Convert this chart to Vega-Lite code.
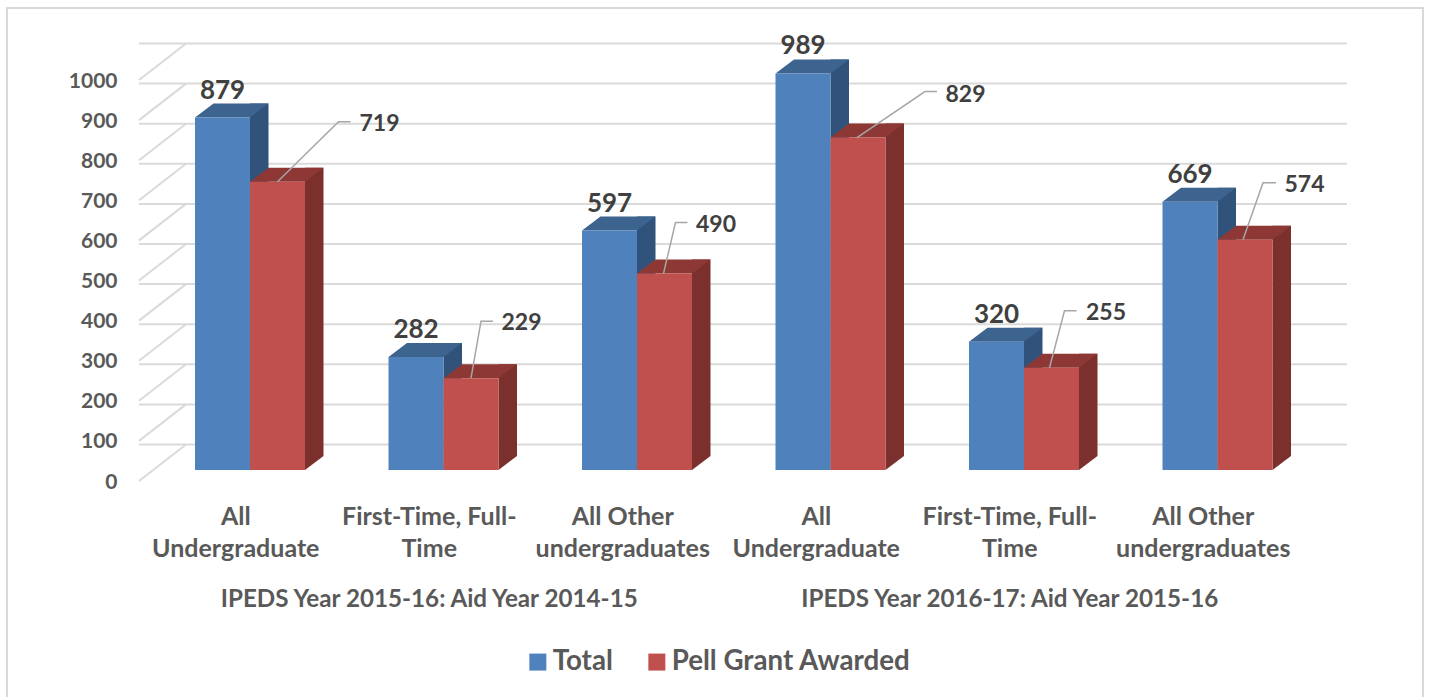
{"$schema":"https://vega.github.io/schema/vega-lite/v6.json","width":1161,"height":401,"autosize":{"type":"none"},"padding":{"left":139,"top":80,"right":129,"bottom":216},"background":"white","config":{"view":{"stroke":null},"font":"Lato"},
"datasets":{"bars":[
{"cat":"2015-16|All|Undergraduate","series":"Total","value":879},
{"cat":"2015-16|First-Time, Full-|Time","series":"Total","value":282},
{"cat":"2015-16|All Other|undergraduates","series":"Total","value":597},
{"cat":"2016-17|All|Undergraduate","series":"Total","value":989},
{"cat":"2016-17|First-Time, Full-|Time","series":"Total","value":320},
{"cat":"2016-17|All Other|undergraduates","series":"Total","value":669},
{"cat":"2015-16|All|Undergraduate","series":"Pell Grant Awarded","value":719},
{"cat":"2015-16|First-Time, Full-|Time","series":"Pell Grant Awarded","value":229},
{"cat":"2015-16|All Other|undergraduates","series":"Pell Grant Awarded","value":490},
{"cat":"2016-17|All|Undergraduate","series":"Pell Grant Awarded","value":829},
{"cat":"2016-17|First-Time, Full-|Time","series":"Pell Grant Awarded","value":255},
{"cat":"2016-17|All Other|undergraduates","series":"Pell Grant Awarded","value":574}],
"ticks":[{"tick":0},{"tick":100},{"tick":200},{"tick":300},{"tick":400},{"tick":500},{"tick":600},{"tick":700},{"tick":800},{"tick":900},{"tick":1000}],
"groups":[{"cat":"2015-16|First-Time, Full-|Time","group":"IPEDS Year 2015-16: Aid Year 2014-15"},{"cat":"2016-17|First-Time, Full-|Time","group":"IPEDS Year 2016-17: Aid Year 2015-16"}]},
"layer":[
{"mark":{"type":"rect","fill":"transparent","stroke":"#D9D9D9","strokeWidth":2,"clip":false},"data":{"values":[{"frame":1}]},"encoding":{"x":{"value":-132},"x2":{"value":1284},"y":{"value":-72},"y2":{"value":640}}},
{"data":{"name":"ticks"},"mark":{"type":"rule","color":"#DADADA","strokeWidth":2,"xOffset":47,"x2Offset":47,"yOffset":-36.5},"encoding":{"y":{"field":"tick","type":"quantitative","title":null,"scale":{"domain":[0,1000],"nice":false,"zero":true},"axis":{"values":[0,100,200,300,400,500,600,700,800,900,1000],"format":"d","domain":false,"ticks":false,"grid":false,"labelPadding":22,"labelOffset":1,"labelFont":"Lato","labelFontWeight":"bold","labelFontSize":21,"labelColor":"#595959"}}}},
{"data":{"name":"ticks"},"mark":{"type":"point","shape":"M0 0L47 -36.5","size":4,"filled":false,"opacity":1,"stroke":"#DADADA","strokeWidth":2},"encoding":{"x":{"datum":"2015-16|All|Undergraduate","type":"nominal","bandPosition":0,"title":null},"y":{"field":"tick","type":"quantitative","title":null}}},
{"data":{"name":"bars"},"encoding":{
"x":{"field":"cat","type":"nominal","sort":null,"title":null,"scale":{"type":"band","paddingInner":0,"paddingOuter":0,"domain":["2015-16|All|Undergraduate","2015-16|First-Time, Full-|Time","2015-16|All Other|undergraduates","2016-17|All|Undergraduate","2016-17|First-Time, Full-|Time","2016-17|All Other|undergraduates"]},"axis":{"labelExpr":"slice(split(datum.value,'|'),1)","labelAngle":0,"labelAlign":"center","labelBaseline":"top","domain":false,"ticks":false,"grid":false,"labelPadding":23,"labelFont":"Lato","labelFontWeight":"bold","labelFontSize":25,"labelLineHeight":32,"labelColor":"#595959","labelLimit":0,"labelOverlap":false}},
"y":{"field":"value","type":"quantitative","title":null}},
"layer":[
{"transform":[{"filter":"datum.series==='Total'"}],"mark":{"type":"bar","color":"#31527B","width":18.5,"xOffset":23.5,"yOffset":-25,"y2Offset":-25}},
{"transform":[{"filter":"datum.series==='Total'"}],"mark":{"type":"point","shape":"M27.5 0L46 -14L27.5 -14Z","size":4,"filled":true,"opacity":1,"color":"#31527B","xOffset":-13.25,"yOffset":-11},"encoding":{"y":{"datum":0,"type":"quantitative","title":null}}},
{"transform":[{"filter":"datum.series==='Total'"}],"mark":{"type":"point","shape":"M-27.5 0L27.5 0L46 -14L-9 -14Z","size":4,"filled":true,"opacity":1,"color":"#3D638F","xOffset":-13.25,"yOffset":-11}},
{"transform":[{"filter":"datum.series==='Total'"}],"mark":{"type":"bar","width":55,"xOffset":-13.25,"yOffset":-11,"y2Offset":-11},"encoding":{"color":{"field":"series","type":"nominal","sort":null,"scale":{"domain":["Total","Pell Grant Awarded"],"range":["#4F81BD","#C0504D"]},"legend":{"title":null,"orient":"none","legendX":385,"legendY":568,"direction":"horizontal","columns":2,"symbolType":"square","symbolSize":289,"symbolStrokeWidth":0,"labelFont":"Lato","labelFontWeight":"bold","labelFontSize":27.7,"labelColor":"#595959","columnPadding":30,"labelOffset":1,"labelLimit":0}}}},
{"transform":[{"filter":"datum.series!=='Total'"}],"mark":{"type":"bar","color":"#7B302E","width":18.5,"xOffset":78.5,"yOffset":-25,"y2Offset":-25}},
{"transform":[{"filter":"datum.series!=='Total'"}],"mark":{"type":"point","shape":"M27.5 0L46 -14L27.5 -14Z","size":4,"filled":true,"opacity":1,"color":"#7B302E","xOffset":41.75,"yOffset":-11},"encoding":{"y":{"datum":0,"type":"quantitative","title":null}}},
{"transform":[{"filter":"datum.series!=='Total'"}],"mark":{"type":"point","shape":"M-27.5 0L27.5 0L46 -14L-9 -14Z","size":4,"filled":true,"opacity":1,"color":"#8E3836","xOffset":41.75,"yOffset":-11}},
{"transform":[{"filter":"datum.series!=='Total'"}],"mark":{"type":"bar","width":55,"xOffset":41.75,"yOffset":-11,"y2Offset":-11},"encoding":{"color":{"field":"series","type":"nominal","sort":null}}},
{"transform":[{"filter":"datum.series!=='Total'"}],"mark":{"type":"point","size":4,"filled":false,"opacity":1,"stroke":"#A6A6A6","strokeWidth":1.5,"xOffset":41.75,"yOffset":-11},"encoding":{"shape":{"field":"cat","type":"nominal","legend":null,"scale":{"domain":["2015-16|All|Undergraduate","2015-16|First-Time, Full-|Time","2015-16|All Other|undergraduates","2016-17|All|Undergraduate","2016-17|First-Time, Full-|Time","2016-17|All Other|undergraduates"],"range":["M0 0L61 -60L73 -60","M0 0L10 -57L22 -57","M-1 0L11 -51L23 -51","M-1 0L67 -46L79 -46","M-2 0L13 -57L25 -57","M-2 0L18 -57L31 -57"]}}}},
{"transform":[{"filter":"datum.series==='Total'"}],"mark":{"type":"text","font":"Lato","fontWeight":"bold","fontSize":26,"color":"#404040","align":"center","baseline":"middle","dx":-13.25,"dy":-38},"encoding":{"text":{"field":"value","type":"quantitative"}}},
{"transform":[{"filter":"datum.series!=='Total'"}],"mark":{"type":"text","font":"Lato","fontWeight":"bold","fontSize":23,"color":"#404040","align":"left","baseline":"middle","dx":{"expr":"41.75+{'2015-16|All|Undergraduate':82,'2015-16|First-Time, Full-|Time':30.5,'2015-16|All Other|undergraduates':31.5,'2016-17|All|Undergraduate':87.5,'2016-17|First-Time, Full-|Time':34.5,'2016-17|All Other|undergraduates':39.5}[datum.cat]"},"dy":{"expr":"-10+{'2015-16|All|Undergraduate':-59,'2015-16|First-Time, Full-|Time':-56,'2015-16|All Other|undergraduates':-50,'2016-17|All|Undergraduate':-44,'2016-17|First-Time, Full-|Time':-56,'2016-17|All Other|undergraduates':-56}[datum.cat]"}},"encoding":{"text":{"field":"value","type":"quantitative"}}}
]},
{"data":{"name":"groups"},"mark":{"type":"text","font":"Lato","fontWeight":"bold","fontSize":24.2,"color":"#595959","align":"center","baseline":"middle"},"encoding":{"x":{"field":"cat","type":"nominal","sort":null,"title":null},"y":{"datum":-297,"type":"quantitative","title":null},"text":{"field":"group"}}}
]}
